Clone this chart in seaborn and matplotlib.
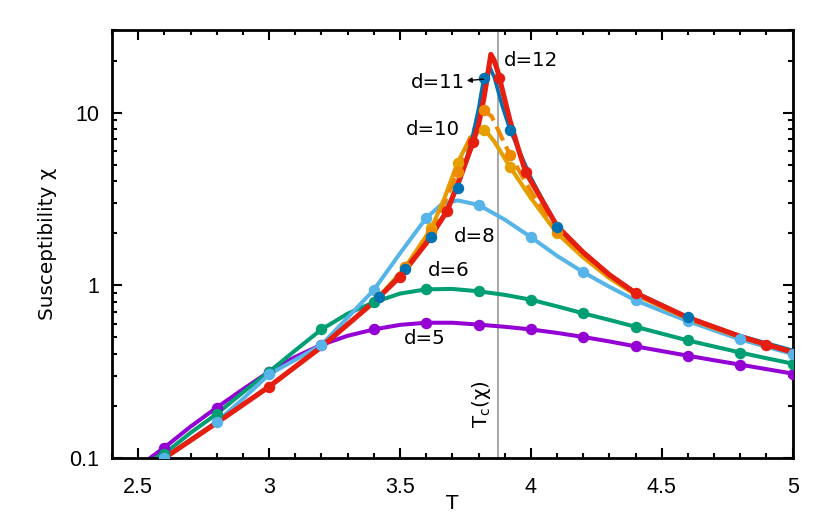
import seaborn as sns
import matplotlib.pyplot as plt
from matplotlib import use
from matplotlib.ticker import LogLocator, MultipleLocator, FixedLocator, NullFormatter

use('agg')

# measured points (markers)
t_d5 = [2.6, 2.8, 3.0, 3.2, 3.4, 3.6, 3.8, 4.0, 4.2, 4.4, 4.6, 4.8, 5.0]
chi_d5 = [0.115, 0.196, 0.316, 0.452, 0.555, 0.607, 0.592, 0.555, 0.502, 0.443, 0.391, 0.347, 0.308]
t_d6 = [2.6, 2.8, 3.0, 3.2, 3.4, 3.6, 3.8, 4.0, 4.2, 4.4, 4.6, 4.8, 5.0]
chi_d6 = [0.106, 0.180, 0.316, 0.555, 0.797, 0.947, 0.923, 0.825, 0.688, 0.575, 0.479, 0.408, 0.352]
t_d8 = [2.6, 2.8, 3.0, 3.2, 3.4, 3.6, 3.8, 4.0, 4.2, 4.4, 4.6, 4.8, 5.0]
chi_d8 = [0.100, 0.162, 0.305, 0.452, 0.940, 2.45, 2.92, 1.90, 1.19, 0.818, 0.620, 0.486, 0.400]
t_d9 = [3.42, 3.52, 3.62, 3.72, 3.82, 3.92, 4.10]
chi_d9 = [0.86, 1.27, 2.14, 5.12, 7.96, 4.85, 2.00]
t_d10 = [3.52, 3.62, 3.72, 3.82, 3.92, 4.10]
chi_d10 = [1.27, 2.03, 4.53, 10.3, 5.70, 2.05]
t_d11 = [3.42, 3.52, 3.62, 3.72, 3.82, 3.92, 4.10, 4.60]
chi_d11 = [0.852, 1.24, 1.90, 3.66, 15.8, 7.96, 2.17, 0.652]
t_d12 = [3.0, 3.5, 3.68, 3.78, 3.88, 3.98, 4.4, 4.9]
chi_d12 = [0.259, 1.12, 2.69, 6.79, 15.8, 4.53, 0.90, 0.454]

# smooth curves
ct_d5 = [2.545, 2.6, 2.7, 2.8, 2.9, 3.0, 3.1, 3.2, 3.3, 3.4, 3.5, 3.6, 3.7, 3.8, 3.9, 4.0,
         4.1, 4.2, 4.3, 4.4, 4.5, 4.6, 4.7, 4.8, 4.9, 5.0]
cchi_d5 = [0.100, 0.115, 0.152, 0.196, 0.250, 0.316, 0.385, 0.452, 0.510, 0.555, 0.590, 0.607,
           0.607, 0.592, 0.575, 0.555, 0.530, 0.502, 0.473, 0.443, 0.416, 0.391, 0.368, 0.347,
           0.327, 0.308]
ct_d6 = [2.565, 2.6, 2.7, 2.8, 2.9, 3.0, 3.1, 3.2, 3.3, 3.4, 3.5, 3.6, 3.7, 3.8, 3.9, 4.0,
         4.1, 4.2, 4.3, 4.4, 4.5, 4.6, 4.7, 4.8, 4.9, 5.0]
cchi_d6 = [0.100, 0.106, 0.140, 0.180, 0.240, 0.316, 0.420, 0.555, 0.685, 0.797, 0.895, 0.947,
           0.952, 0.923, 0.880, 0.825, 0.755, 0.688, 0.630, 0.575, 0.525, 0.479, 0.442, 0.408,
           0.378, 0.352]
ct_d8 = [2.58, 2.6, 2.7, 2.8, 2.9, 3.0, 3.1, 3.2, 3.3, 3.4, 3.5, 3.6, 3.66, 3.72, 3.8, 3.9,
         4.0, 4.1, 4.2, 4.3, 4.4, 4.5, 4.6, 4.7, 4.8, 4.9, 5.0]
cchi_d8 = [0.094, 0.100, 0.128, 0.162, 0.220, 0.305, 0.370, 0.452, 0.650, 0.940, 1.53, 2.45,
           2.95, 3.10, 2.92, 2.40, 1.90, 1.48, 1.19, 0.980, 0.818, 0.710, 0.620, 0.548, 0.486,
           0.440, 0.400]
ct_d9 = [3.42, 3.52, 3.62, 3.67, 3.72, 3.77, 3.82, 3.86, 3.92, 4.0, 4.1, 4.2, 4.3, 4.4,
         4.6, 4.8, 5.0]
cchi_d9 = [0.86, 1.27, 2.14, 3.20, 5.12, 7.20, 8.10, 6.80, 4.85, 3.20, 2.00, 1.45, 1.10, 0.88,
           0.64, 0.50, 0.41]
ct_d10 = [3.52, 3.62, 3.67, 3.72, 3.77, 3.82, 3.85, 3.92, 4.0, 4.1, 4.2, 4.3, 4.4]
cchi_d10 = [1.25, 2.03, 3.00, 4.53, 7.30, 10.3, 9.50, 5.70, 3.50, 2.05, 1.50, 1.12, 0.89]
ct_d11 = [3.42, 3.52, 3.62, 3.67, 3.72, 3.77, 3.80, 3.82, 3.845, 3.86, 3.89, 3.92, 4.0, 4.1,
          4.2, 4.3, 4.4, 4.6, 4.8, 5.0]
cchi_d11 = [0.852, 1.24, 1.90, 2.60, 3.66, 6.50, 10.5, 15.8, 18.0, 16.0, 11.0, 7.96, 4.20,
            2.17, 1.55, 1.15, 0.91, 0.652, 0.510, 0.420]
ct_d12 = [2.6, 2.8, 3.0, 3.2, 3.4, 3.5, 3.6, 3.68, 3.73, 3.78, 3.80, 3.82, 3.835, 3.847, 3.86,
          3.875, 3.88, 3.92, 3.95, 3.98, 4.1, 4.2, 4.3, 4.4, 4.6, 4.8, 4.9, 5.0]
cchi_d12 = [0.100, 0.160, 0.259, 0.440, 0.800, 1.12, 1.75, 2.69, 4.20, 6.79, 8.50, 12.0, 16.5,
            21.7, 20.0, 17.0, 15.8, 9.00, 6.30, 4.53, 2.20, 1.55, 1.15, 0.90, 0.65, 0.505,
            0.454, 0.410]

tc_chi = 3.873
labels = ['d=5', 'd=6', 'd=8', 'd=10', 'd=11', 'd=12']

series = [
    (ct_d5, cchi_d5, t_d5, chi_d5, '#9400D3', 2.9, '-'),
    (ct_d6, cchi_d6, t_d6, chi_d6, '#009E73', 2.9, '-'),
    (ct_d8, cchi_d8, t_d8, chi_d8, '#56B4E9', 2.9, '-'),
    (ct_d9, cchi_d9, t_d9, chi_d9, '#E69F00', 3.0, '-'),
    (ct_d10, cchi_d10, t_d10, chi_d10, '#EE8A00', 3.0, '--'),
    (ct_d11, cchi_d11, t_d11, chi_d11, '#0072B2', 2.6, '-'),
    (ct_d12, cchi_d12, t_d12, chi_d12, '#E51E10', 3.7, '-'),
]

sns.set_theme(style='ticks')
plt.rcParams['font.family'] = ['DejaVu Sans']
for key in ['text.color', 'axes.labelcolor', 'xtick.color', 'ytick.color']:
    plt.rcParams[key] = 'black'

fig = plt.figure(figsize=(8.3, 5.19), dpi=100)
ax = fig.add_axes([0.135, 0.1175, 0.82, 0.8245])

ax.axvline(tc_chi, color='#AAAAAA', lw=1.5, zorder=1)

for ct, cc, t, c, col, lw, ls in series:
    sns.lineplot(x=ct, y=cc, ax=ax, color=col, lw=lw, linestyle=ls, sort=False,
                 estimator=None, zorder=2)
for ct, cc, t, c, col, lw, ls in series:
    sns.scatterplot(x=t, y=c, ax=ax, color=col, s=68, linewidth=0, zorder=3)

ax.set_yscale('log')
ax.set_xlim(2.4, 5.0)
ax.set_ylim(0.1, 30)
ax.xaxis.set_major_locator(FixedLocator([2.5, 3.0, 3.5, 4.0, 4.5, 5.0]))
ax.set_xticklabels(['2.5', '3', '3.5', '4', '4.5', '5'])
ax.xaxis.set_minor_locator(MultipleLocator(0.1))
ax.yaxis.set_major_locator(FixedLocator([0.1, 1, 10]))
ax.set_yticklabels(['0.1', '1', '10'])
ax.yaxis.set_minor_locator(LogLocator(base=10, subs=range(2, 10)))
ax.yaxis.set_minor_formatter(NullFormatter())
ax.tick_params(which='both', direction='in', top=True, right=True, width=1.5)
ax.tick_params(which='major', length=7.2)
ax.tick_params(which='minor', length=3.8)
ax.tick_params(axis='x', pad=14)
ax.tick_params(axis='y', pad=9)
for lab in ax.get_xticklabels() + ax.get_yticklabels():
    lab.set_family(['Liberation Sans', 'DejaVu Sans'])
    lab.set_fontsize(15.5)
for sp in ax.spines.values():
    sp.set_linewidth(2)
    sp.set_color('black')

ax.set_xlabel('T', fontsize=14.4, labelpad=-3)
ax.set_ylabel('Susceptibility χ', fontsize=14.4, labelpad=9)

fs = 14.2
ax.text(3.895, 20.0, labels[5], fontsize=fs, ha='left', va='center')
ax.text(3.75, 15.0, labels[4], fontsize=fs, ha='right', va='center')
ax.annotate('', xy=(3.755, 15.3), xytext=(3.82, 15.6),
            arrowprops=dict(arrowstyle='-|>', color='black', lw=1, mutation_scale=7,
                            shrinkA=0, shrinkB=0))
ax.text(3.728, 7.96, labels[3], fontsize=fs, ha='right', va='center')
ax.text(3.865, 1.925, labels[2], fontsize=fs, ha='right', va='center')
ax.text(3.766, 1.22, labels[1], fontsize=fs, ha='right', va='center')
ax.text(3.675, 0.49, labels[0], fontsize=fs, ha='right', va='center')
ax.text(3.81, 0.149, 'T$_\\mathregular{c}$(χ)', fontsize=fs, rotation=90, ha='center', va='bottom')

plt.savefig('out.png', dpi=100)
